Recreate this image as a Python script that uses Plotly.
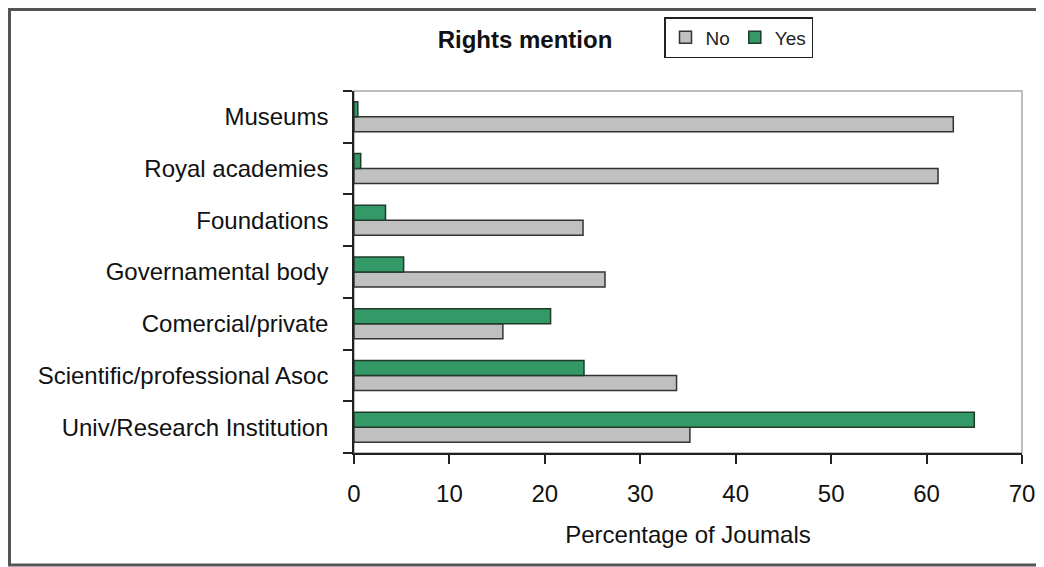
import plotly.graph_objects as go

# Categories listed bottom to top (plotly draws the first category at the bottom)
categories = [
    "Univ/Research Institution",
    "Scientific/professional Asoc",
    "Comercial/private",
    "Governamental body",
    "Foundations",
    "Royal academies",
    "Museums",
]
no_values = [35.2, 33.8, 15.6, 26.3, 24.0, 61.2, 62.8]
yes_values = [65.0, 24.1, 20.6, 5.2, 3.3, 0.7, 0.4]
x_ticks = [0, 10, 20, 30, 40, 50, 60, 70]

FONT = "Liberation Sans, Arial, sans-serif"

# page body has an 8px margin, so the figure is shrunk and everything is placed 8px earlier
OFF = 8
FW, FH = 1044 - OFF, 567 - OFF
# plot area in page pixels: x 354..1022, y 91..453
L, T = 354 - OFF, 91 - OFF
R, B = FW - (1022 - OFF), FH - (453 - OFF)
W, H = FW - L - R, FH - T - B


def px(xp):
    return (xp - OFF - L) / W


def py(yp):
    return (FH - B - (yp - OFF)) / H


fig = go.Figure()

# No first so it sits below Yes inside each group
fig.add_trace(go.Bar(
    y=categories, x=no_values, name="No", orientation="h",
    marker=dict(color="#c0c0c0", line=dict(color="#333333", width=1.5)),
))
fig.add_trace(go.Bar(
    y=categories, x=yes_values, name="Yes", orientation="h",
    marker=dict(color="#339966", line=dict(color="#1f3a2a", width=1.5)),
))

fig.update_layout(
    width=FW, height=FH,
    margin=dict(l=L, r=R, t=T, b=B, autoexpand=False),
    paper_bgcolor="white", plot_bgcolor="white",
    barmode="group", bargap=0.42, bargroupgap=0.0,
    font=dict(family=FONT, color="#111111"),
    title=dict(
        text="<b>Rights mention</b>", x=(525 - OFF) / FW, y=1 - (40 - OFF) / FH,
        xref="container", yref="container", xanchor="center", yanchor="middle",
        font=dict(size=24, color="#111111"),
    ),
    showlegend=True,
    legend=dict(
        orientation="h", traceorder="normal",
        x=px(664), y=py(17), xanchor="left", yanchor="top",
        bordercolor="#222222", borderwidth=1.5, bgcolor="white",
        font=dict(size=19, color="#222222"),
        itemwidth=30, tracegroupgap=0,
    ),
    shapes=[
        # light grey plot frame (top/right)
        dict(type="rect", xref="paper", yref="paper", x0=0, x1=1, y0=0, y1=1,
             line=dict(color="#a8a8a8", width=1.5), layer="below"),
        # dark outer border of the picture
        dict(type="rect", xref="paper", yref="paper",
             x0=px(OFF + 1.5), x1=px(1041), y0=py(565), y1=py(OFF + 1.5),
             line=dict(color="#555555", width=3)),
    ],
)

fig.update_xaxes(
    range=[0, 70], tickvals=x_ticks, ticktext=[str(t) for t in x_ticks],
    showgrid=False, zeroline=False,
    showline=True, linecolor="#222222", linewidth=1.5,
    ticks="outside", ticklen=9, tickwidth=1.5, tickcolor="#222222",
    tickfont=dict(size=24, color="#111111"),
    ticklabelstandoff=9,
    title=dict(text="Percentage of Joumals", font=dict(size=24, color="#111111"), standoff=21),
)
fig.update_yaxes(
    showgrid=False, zeroline=False,
    showline=True, linecolor="#222222", linewidth=1.5,
    ticks="outside", ticklen=9, tickwidth=1.5, tickcolor="#222222",
    tickson="boundaries",
    tickfont=dict(size=24, color="#111111"),
    ticklabelstandoff=19,
)

fig.write_html("out.html")
